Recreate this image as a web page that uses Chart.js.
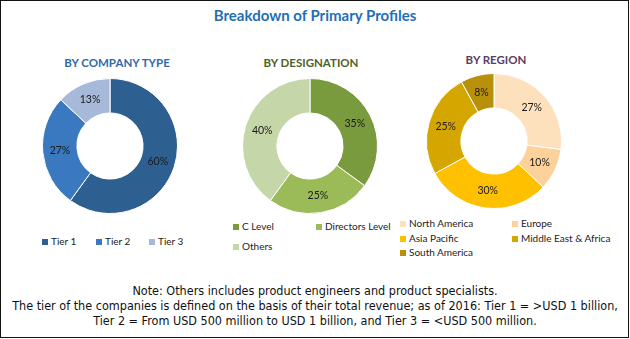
<!DOCTYPE html>
<html>
<head>
<meta charset="utf-8">
<script src="https://cdn.jsdelivr.net/npm/chart.js@4.4.0/dist/chart.umd.min.js"></script>
<style>
  html, body { margin: 0; padding: 0; background: #fff; }
  #wrap { position: relative; width: 630px; height: 339px; overflow: hidden; font-family: Lato, "Open Sans", sans-serif; }
  #frame { position: absolute; left: 0; top: 0; width: 627px; height: 336px; border: 1.5px solid #111; }
  .title { position: absolute; left: 0; width: 630px; top: 6px; text-align: center; font-weight: bold; font-size: 15px; color: #1f6fb5; }
  .sub { position: absolute; width: 200px; text-align: center; font-weight: bold; font-size: 11.5px; }
  canvas { position: absolute; }
  .leg { position: absolute; font-size: 10px; color: #222; white-space: nowrap; }
  .leg span.box { position: absolute; width: 6px; height: 6px; }
  .leg span.txt { position: absolute; }
  .note { position: absolute; left: 0; width: 630px; top: 283px; text-align: center; font-family: "Liberation Sans Narrow", "DejaVu Sans Condensed", sans-serif; font-size: 12.5px; line-height: 15px; color: #111; }
</style>
</head>
<body>
<div id="wrap">
  <div id="frame"></div>
  <div class="title">Breakdown of Primary Profiles</div>
  <div class="sub" style="left:17px;top:56px;color:#2e6aa8">BY COMPANY TYPE</div>
  <div class="sub" style="left:211px;top:56px;color:#4f6228">BY DESIGNATION</div>
  <div class="sub" style="left:396px;top:53px;color:#5b3d66">BY REGION</div>
  <canvas id="c1" width="136" height="136" style="left:42px;top:78px"></canvas>
  <canvas id="c2" width="136" height="136" style="left:242px;top:78px"></canvas>
  <canvas id="c3" width="136" height="136" style="left:426px;top:73px"></canvas>
  <div id="legends"></div>
  <div class="note">
    Note: Others includes product engineers and product specialists.<br>
    The tier of the companies is defined on the basis of their total revenue; as of 2016: Tier 1 = &gt;USD 1 billion,<br>
    Tier 2 = From USD 500 million to USD 1 billion, and Tier 3 = &lt;USD 500 million.
  </div>
</div>
<script>
const companyTypes = ["Tier 1", "Tier 2", "Tier 3"];
const companyShares = [60, 27, 13];
const companyColors = ["#2d5f91", "#3a78bf", "#a7b9d8"];

const designations = ["C Level", "Directors Level", "Others"];
const designationShares = [35, 25, 40];
const designationColors = ["#7a9a3e", "#9bbb59", "#c5d6a8"];

const regions = ["North America", "Europe", "Asia Pacific", "Middle East & Africa", "South America"];
const regionShares = [27, 10, 30, 25, 8];
const regionColors = ["#fde0bc", "#fcd19a", "#ffc000", "#d6a600", "#b8900a"];

// percentage text on each slice, at the middle of the ring
const sliceLabels = {
  id: "sliceLabels",
  afterDatasetsDraw(chart) {
    const ctx = chart.ctx;
    const ds = chart.data.datasets[0];
    ctx.save();
    ctx.font = "10.5px Lato, sans-serif";
    ctx.fillStyle = "#1a1a1a";
    ctx.textAlign = "center";
    ctx.textBaseline = "middle";
    chart.getDatasetMeta(0).data.forEach((arc, i) => {
      const p = arc.tooltipPosition();
      ctx.fillText(ds.data[i] + "%", p.x, p.y);
    });
    ctx.restore();
  }
};

function makeDonut(id, labels, values, colors) {
  return new Chart(document.getElementById(id), {
    type: "doughnut",
    data: {
      labels: labels,
      datasets: [{
        data: values,
        backgroundColor: colors,
        borderColor: "#fff",
        borderWidth: 1,
        hoverOffset: 0
      }]
    },
    options: {
      responsive: false,
      animation: false,
      cutout: "49%",
      layout: { padding: 0 },
      plugins: { legend: { display: false }, tooltip: { enabled: false } }
    },
    plugins: [sliceLabels]
  });
}

makeDonut("c1", companyTypes, companyShares, companyColors);
makeDonut("c2", designations, designationShares, designationColors);
makeDonut("c3", regions, regionShares, regionColors);

// legend entries: [x, y] of the colour box for each label
function buildLegend(labels, colors, spots) {
  const host = document.getElementById("legends");
  labels.forEach((name, i) => {
    const [x, y] = spots[i];
    const item = document.createElement("div");
    item.className = "leg";
    item.style.left = x + "px";
    item.style.top = y + "px";
    item.innerHTML = `<span class="box" style="left:0;top:0;background:${colors[i]}"></span>` +
      `<span class="txt" style="left:9px;top:-4px">${name.replace("&", "&amp;")}</span>`;
    host.appendChild(item);
  });
}

buildLegend(companyTypes, companyColors, [[42, 239], [96, 239], [149, 239]]);
buildLegend(designations, designationColors, [[233, 224], [316, 224], [233, 244]]);
buildLegend(regions, regionColors, [[400, 221], [512, 221], [400, 236], [512, 236], [400, 250]]);
</script>
</body>
</html>
